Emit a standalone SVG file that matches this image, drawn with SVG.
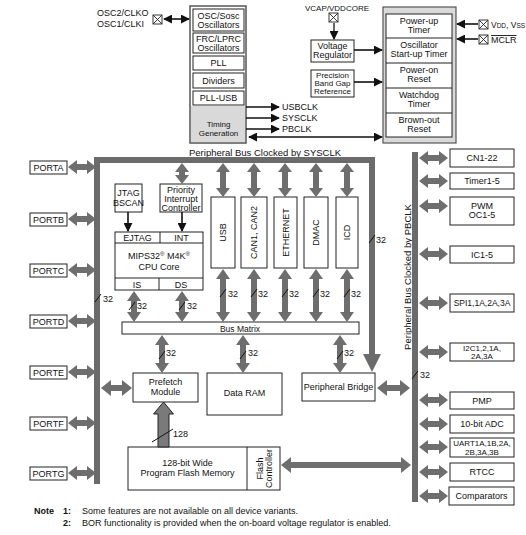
<svg xmlns="http://www.w3.org/2000/svg" width="526" height="535" viewBox="0 0 526 535">
<style>
text{font-family:"Liberation Sans",Arial,sans-serif;font-size:9px;fill:#111}
.t{text-anchor:middle}
.b{fill:#fff;stroke:#222;stroke-width:1}
.bus{fill:none;stroke:#6b6b6b;stroke-width:6}
.ga{fill:#6e6e6e;stroke:none}
.k{stroke:#111;stroke-width:1.6;fill:none}
.sl{stroke:#111;stroke-width:1}
.xb{fill:#fff;stroke:#222;stroke-width:0.9}
.s8{font-size:8px}
</style>
<defs>
<marker id="ah" viewBox="0 0 10 10" refX="9" refY="5" markerWidth="9" markerHeight="9" markerUnits="userSpaceOnUse" orient="auto-start-reverse"><path d="M0,0 L10,5 L0,10 Z" fill="#111"/></marker>
<g id="xbox"><rect class="xb" x="0" y="0" width="9" height="9"/><path d="M0,0 L9,9 M9,0 L0,9" stroke="#222" stroke-width="0.9"/></g>
</defs>
<rect width="526" height="535" fill="#fff"/>

<!-- Oscillator / clock block -->
<g id="osc-in">
<text x="97" y="16">OSC2/CLKO</text>
<text x="97" y="27">OSC1/CLKI</text>
<use href="#xbox" x="153" y="15"/>
</g>
<g id="clock">
<rect x="190" y="6" width="56" height="137" fill="#fff" stroke="#555" stroke-width="1.5"/>
<rect x="191" y="106" width="54" height="36" fill="#d9d9d9"/>
<rect class="b" x="193" y="9" width="51" height="22"/>
<text class="t" x="218.5" y="19">OSC/Sosc</text><text class="t" x="218.5" y="28">Oscillators</text>
<rect class="b" x="193" y="33" width="51" height="20"/>
<text class="t" x="218.5" y="42">FRC/LPRC</text><text class="t" x="218.5" y="51">Oscillators</text>
<rect class="b" x="193" y="56" width="51" height="14"/>
<text class="t" x="218.5" y="66">PLL</text>
<rect class="b" x="193" y="73" width="51" height="15"/>
<text class="t" x="218.5" y="84">Dividers</text>
<rect class="b" x="193" y="91" width="51" height="14"/>
<text class="t" x="218.5" y="101">PLL-USB</text>
<text class="t s8" x="218.5" y="127">Timing</text><text class="t s8" x="218.5" y="136">Generation</text>
</g>
<g id="clk-labels">
<text x="282" y="110">USBCLK</text>
<text x="282" y="121">SYSCLK</text>
<text x="282" y="132">PBCLK</text>
</g>

<!-- Reset block -->
<g id="vcap">
<text x="305" y="11" style="font-size:8px">VCAP/VDDCORE</text>
<use href="#xbox" x="329" y="13"/>
</g>
<g id="vreg"><rect class="b" x="311" y="40" width="43" height="22"/>
<text class="t" x="332.5" y="49">Voltage</text><text class="t" x="332.5" y="58">Regulator</text></g>
<g id="bandgap"><rect class="b" x="311" y="70" width="43" height="27"/>
<text class="t s8" x="332.5" y="77.5">Precision</text><text class="t s8" x="332.5" y="85.5">Band Gap</text><text class="t s8" x="332.5" y="94">Reference</text></g>
<g id="reset">
<rect x="383" y="7" width="73" height="136" fill="#d9d9d9" stroke="#555" stroke-width="1.2"/>
<rect class="b" x="386" y="14" width="66" height="123"/>
<path d="M386,38H452M386,63H452M386,88H452M386,113H452" stroke="#222" stroke-width="1"/>
<text class="t" x="419" y="24">Power-up</text><text class="t" x="419" y="33">Timer</text>
<text class="t" x="419" y="48">Oscillator</text><text class="t" x="419" y="57">Start-up Timer</text>
<text class="t" x="419" y="73">Power-on</text><text class="t" x="419" y="82">Reset</text>
<text class="t" x="419" y="98">Watchdog</text><text class="t" x="419" y="107">Timer</text>
<text class="t" x="419" y="123">Brown-out</text><text class="t" x="419" y="132">Reset</text>
</g>
<g id="vdd"><use href="#xbox" x="479" y="20"/><text x="491" y="28" style="font-size:8.5px">V<tspan style="font-size:6.5px">DD</tspan>, V<tspan style="font-size:6.5px">SS</tspan></text></g>
<g id="mclr"><use href="#xbox" x="479" y="35"/><text x="491" y="43" text-decoration="overline">MCLR</text></g>

<text x="189" y="156" style="font-size:9.5px">Peripheral Bus Clocked by SYSCLK</text>

<!-- Ports -->
<g id="porta"><rect class="b" x="30" y="161" width="37" height="13"/><text class="t" x="48.5" y="171">PORTA</text></g>
<g id="portb"><rect class="b" x="30" y="213" width="37" height="13"/><text class="t" x="48.5" y="223">PORTB</text></g>
<g id="portc"><rect class="b" x="30" y="264" width="37" height="13"/><text class="t" x="48.5" y="274">PORTC</text></g>
<g id="portd"><rect class="b" x="30" y="315" width="37" height="13"/><text class="t" x="48.5" y="325">PORTD</text></g>
<g id="porte"><rect class="b" x="30" y="366" width="37" height="13"/><text class="t" x="48.5" y="376">PORTE</text></g>
<g id="portf"><rect class="b" x="30" y="417" width="37" height="13"/><text class="t" x="48.5" y="427">PORTF</text></g>
<g id="portg"><rect class="b" x="30" y="467" width="37" height="13"/><text class="t" x="48.5" y="477">PORTG</text></g>

<!-- CPU area -->
<g id="jtag"><rect class="b" x="115" y="184" width="27" height="28"/><text class="t" x="128.5" y="196">JTAG</text><text class="t" x="128.5" y="206">BSCAN</text></g>
<g id="pic"><rect class="b" x="160" y="184" width="42" height="28"/><text class="t" x="181" y="193">Priority</text><text class="t" x="181" y="202">Interrupt</text><text class="t" x="181" y="211">Controller</text></g>
<g id="cpu">
<rect class="b" x="115" y="232" width="88" height="58"/>
<path d="M115,243H203M115,278H203M160,232V243M159,278V290" stroke="#222" stroke-width="1"/>
<text class="t" x="137.5" y="241">EJTAG</text><text class="t" x="181.5" y="241">INT</text>
<text class="t" x="159" y="259">MIPS32<tspan style="font-size:6px" dy="-3">®</tspan><tspan dy="3"> M4K</tspan><tspan style="font-size:6px" dy="-3">®</tspan></text>
<text class="t" x="159" y="270">CPU Core</text>
<text class="t" x="137" y="288">IS</text><text class="t" x="181" y="288">DS</text>
</g>
<g id="usb"><rect class="b" x="211" y="197" width="24" height="71"/><text class="t" transform="translate(226,232.5) rotate(-90)">USB</text></g>
<g id="can"><rect class="b" x="241" y="197" width="26" height="71"/><text class="t" transform="translate(257,232.5) rotate(-90)">CAN1, CAN2</text></g>
<g id="eth"><rect class="b" x="274" y="197" width="23" height="71"/><text class="t" transform="translate(288.5,232.5) rotate(-90)">ETHERNET</text></g>
<g id="dmac"><rect class="b" x="304" y="197" width="24" height="71"/><text class="t" transform="translate(319,232.5) rotate(-90)">DMAC</text></g>
<g id="icd"><rect class="b" x="336" y="197" width="22" height="71"/><text class="t" transform="translate(350,232.5) rotate(-90)">ICD</text></g>
<g id="busmatrix"><rect class="b" x="122" y="322" width="237" height="12"/><text class="t" x="240" y="331.5" style="font-size:8.5px">Bus Matrix</text></g>
<g id="prefetch"><rect class="b" x="133" y="373" width="65" height="29"/><text class="t" x="165.5" y="385">Prefetch</text><text class="t" x="165.5" y="395">Module</text></g>
<g id="dataram"><rect class="b" x="207" y="373" width="75" height="42"/><text class="t" x="244.5" y="396">Data RAM</text></g>
<g id="bridge"><rect class="b" x="302" y="373" width="73" height="28"/><text class="t" x="338.5" y="390">Peripheral Bridge</text></g>
<g id="flash">
<rect class="b" x="128" y="447" width="152" height="43"/>
<path d="M247,447V490" stroke="#222" stroke-width="1"/>
<text class="t" x="187.5" y="466">128-bit Wide</text><text class="t" x="187.5" y="476">Program Flash Memory</text>
<text class="t" transform="translate(263.5,468.5) rotate(-90)"><tspan x="0" y="-1">Flash</tspan><tspan x="0" y="8">Controller</tspan></text>
</g>

<!-- Right peripherals -->
<g id="cn"><rect class="b" x="450" y="149" width="64" height="18"/><text class="t" x="482" y="161">CN1-22</text></g>
<g id="timer"><rect class="b" x="450" y="173" width="64" height="16"/><text class="t" x="482" y="184">Timer1-5</text></g>
<g id="pwm"><rect class="b" x="450" y="197" width="64" height="28"/><text class="t" x="482" y="209">PWM</text><text class="t" x="482" y="218">OC1-5</text></g>
<g id="ic"><rect class="b" x="450" y="246" width="64" height="17"/><text class="t" x="482" y="258">IC1-5</text></g>
<g id="spi"><rect class="b" x="450" y="294" width="64" height="18"/><text class="t" x="482" y="306" style="font-size:8.5px">SPI1,1A,2A,3A</text></g>
<g id="i2c"><rect class="b" x="450" y="343" width="64" height="18"/><text class="t s8" x="482" y="351">I2C1,2,1A,</text><text class="t s8" x="482" y="359">2A,3A</text></g>
<g id="pmp"><rect class="b" x="450" y="392" width="64" height="17"/><text class="t" x="482" y="404">PMP</text></g>
<g id="adc"><rect class="b" x="450" y="415" width="64" height="18"/><text class="t" x="482" y="427">10-bit ADC</text></g>
<g id="uart"><rect class="b" x="450" y="438" width="64" height="19"/><text class="t s8" x="482" y="446">UART1A,1B,2A,</text><text class="t s8" x="482" y="455">2B,3A,3B</text></g>
<g id="rtcc"><rect class="b" x="450" y="463" width="64" height="18"/><text class="t" x="482" y="475">RTCC</text></g>
<g id="comp"><rect class="b" x="449" y="487" width="65" height="18"/><text class="t" x="481.5" y="499">Comparators</text></g>

<text class="t" transform="translate(411,277) rotate(-90)" style="font-size:9.5px">Peripheral Bus Clocked by PBCLK</text>

<!-- Connectors -->
<g id="connectors">
<!-- buses -->
<path class="bus" d="M97,484V160H372V356"/>
<path d="M363,354H381L372,372Z" fill="#6b6b6b"/>
<path class="bus" d="M415,152V502"/>
<!-- black arrows -->
<path class="k" d="M164,19H189" marker-start="url(#ah)" marker-end="url(#ah)"/>
<path class="k" d="M246,107H279" marker-end="url(#ah)"/>
<path class="k" d="M246,118H279" marker-end="url(#ah)"/>
<path class="k" d="M246,129H279" marker-end="url(#ah)"/>
<path class="k" d="M249,137H382" marker-start="url(#ah)" marker-end="url(#ah)"/>
<path d="M334,23V39" stroke="#333" stroke-width="1.5" fill="none" marker-end="url(#ah)"/>
<path class="k" d="M354,50H382" marker-end="url(#ah)"/>
<path class="k" d="M354,82H382" marker-end="url(#ah)"/>
<path class="k" d="M478,24H457" marker-end="url(#ah)"/>
<path class="k" d="M478,39H457" marker-end="url(#ah)"/>
<path class="k" d="M128,212V231" marker-end="url(#ah)"/>
<path class="k" d="M182,212V231" marker-end="url(#ah)"/>
<!-- gray double arrows: ports -->
<path class="ga" d="M68,167l9,-7v4h10v-4l9,7l-9,7v-4h-10v4Z"/>
<path class="ga" d="M68,219l9,-7v4h10v-4l9,7l-9,7v-4h-10v4Z"/>
<path class="ga" d="M68,270l9,-7v4h10v-4l9,7l-9,7v-4h-10v4Z"/>
<path class="ga" d="M68,321l9,-7v4h10v-4l9,7l-9,7v-4h-10v4Z"/>
<path class="ga" d="M68,372l9,-7v4h10v-4l9,7l-9,7v-4h-10v4Z"/>
<path class="ga" d="M68,423l9,-7v4h10v-4l9,7l-9,7v-4h-10v4Z"/>
<path class="ga" d="M68,473l9,-7v4h10v-4l9,7l-9,7v-4h-10v4Z"/>
<!-- bus to prefetch -->
<path class="ga" d="M101,388l10,-8v5h11v-5l10,8l-10,8v-5h-11v5Z"/>
<!-- bridge to PB bus -->
<path class="ga" d="M377,388l10,-8v5h13v-5l10,8l-10,8v-5h-13v5Z"/>
<!-- flash controller to PB bus -->
<path class="ga" d="M281,465l10,-8v5h110v-5l10,8l-10,8v-5h-110v5Z"/>
<!-- right peripherals -->
<path class="ga" d="M419,158l9,-7v4h11v-4l9,7l-9,7v-4h-11v4Z"/>
<path class="ga" d="M419,181l9,-7v4h11v-4l9,7l-9,7v-4h-11v4Z"/>
<path class="ga" d="M419,206l9,-7v4h11v-4l9,7l-9,7v-4h-11v4Z"/>
<path class="ga" d="M419,254l9,-7v4h11v-4l9,7l-9,7v-4h-11v4Z"/>
<path class="ga" d="M419,303l9,-7v4h11v-4l9,7l-9,7v-4h-11v4Z"/>
<path class="ga" d="M419,352l9,-7v4h11v-4l9,7l-9,7v-4h-11v4Z"/>
<path class="ga" d="M419,400l9,-7v4h11v-4l9,7l-9,7v-4h-11v4Z"/>
<path class="ga" d="M419,424l9,-7v4h11v-4l9,7l-9,7v-4h-11v4Z"/>
<path class="ga" d="M419,447l9,-7v4h11v-4l9,7l-9,7v-4h-11v4Z"/>
<path class="ga" d="M419,472l9,-7v4h11v-4l9,7l-9,7v-4h-11v4Z"/>
<path class="ga" d="M419,496l9,-7v4h11v-4l9,7l-9,7v-4h-11v4Z"/>
<!-- vertical: top bus to peripherals -->
<path class="ga" d="M182,163l7,9h-4v3h4l-7,9l-7,-9h4v-3h-4Z"/>
<path class="ga" d="M223,163l7,9h-4v16h4l-7,9l-7,-9h4v-16h-4Z"/>
<path class="ga" d="M254,163l7,9h-4v16h4l-7,9l-7,-9h4v-16h-4Z"/>
<path class="ga" d="M285,163l7,9h-4v16h4l-7,9l-7,-9h4v-16h-4Z"/>
<path class="ga" d="M316,163l7,9h-4v16h4l-7,9l-7,-9h4v-16h-4Z"/>
<path class="ga" d="M347,163l7,9h-4v16h4l-7,9l-7,-9h4v-16h-4Z"/>
<!-- peripherals to bus matrix -->
<path class="ga" d="M223,269l7,10h-4v33h4l-7,10l-7,-10h4v-33h-4Z"/>
<path class="ga" d="M254,269l7,10h-4v33h4l-7,10l-7,-10h4v-33h-4Z"/>
<path class="ga" d="M285,269l7,10h-4v33h4l-7,10l-7,-10h4v-33h-4Z"/>
<path class="ga" d="M316,269l7,10h-4v33h4l-7,10l-7,-10h4v-33h-4Z"/>
<path class="ga" d="M347,269l7,10h-4v33h4l-7,10l-7,-10h4v-33h-4Z"/>
<!-- IS / DS -->
<path class="ga" d="M134,291l7,10h-4v11h4l-7,10l-7,-10h4v-11h-4Z"/>
<path class="ga" d="M182,291l7,10h-4v11h4l-7,10l-7,-10h4v-11h-4Z"/>
<!-- bus matrix down -->
<path class="ga" d="M162,335l7,10h-4v18h4l-7,10l-7,-10h4v-18h-4Z"/>
<path class="ga" d="M243,335l7,10h-4v18h4l-7,10l-7,-10h4v-18h-4Z"/>
<path class="ga" d="M340,335l7,10h-4v18h4l-7,10l-7,-10h4v-18h-4Z"/>
<!-- 128 bit arrow -->
<path d="M163.5,402L173.5,414H169V447H158V414H153.5Z" fill="#7a7a7a" stroke="#222" stroke-width="1"/>
<!-- width markers -->
<path class="sl" d="M95,302L101,294M129,310L135,302M179,310L185,302M220,297L226,289M251,297L257,289M282,297L288,289M313,297L319,289M344,297L350,289M369,243L375,235M159,359L165,351M240,359L246,351M337,359L343,351M412,379L418,371M152,442L173,429"/>
<text x="103" y="302">32</text>
<text x="137" y="309">32</text>
<text x="187" y="309">32</text>
<text x="228" y="297">32</text>
<text x="258" y="297">32</text>
<text x="289" y="297">32</text>
<text x="320" y="297">32</text>
<text x="351" y="297">32</text>
<text x="376" y="243">32</text>
<text x="166" y="356">32</text>
<text x="248" y="356">32</text>
<text x="344" y="356">32</text>
<text x="420" y="378">32</text>
<text x="173" y="437">128</text>
</g>

<!-- Notes -->
<g id="notes">
<text x="34" y="514" style="font-weight:bold">Note</text>
<text x="63" y="514" style="font-weight:bold">1:</text>
<text x="82" y="514">Some features are not available on all device variants.</text>
<text x="63" y="526" style="font-weight:bold">2:</text>
<text x="82" y="526">BOR functionality is provided when the on-board voltage regulator is enabled.</text>
</g>
</svg>
